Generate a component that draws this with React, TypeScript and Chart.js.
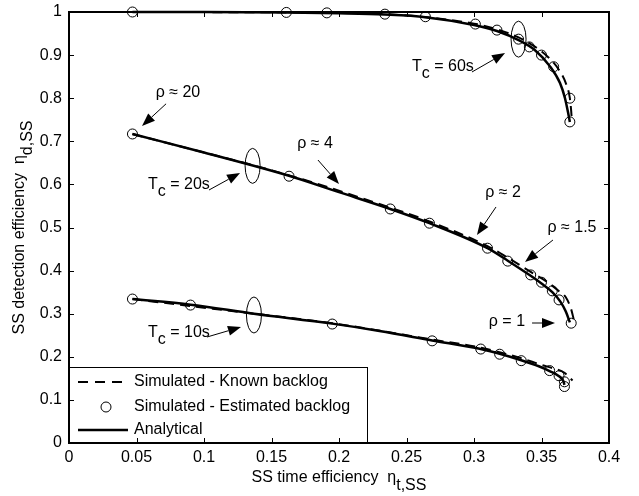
import { useEffect, useRef } from "react";
import { Chart, registerables } from "chart.js";

Chart.register(...registerables);

const FONT_FAMILY = 'Arial, "Liberation Sans", Helvetica, sans-serif';

// ---- tick values ----
const xTickValues = [0, 0.05, 0.1, 0.15, 0.2, 0.25, 0.3, 0.35, 0.4];
const yTickValues = [0, 0.1, 0.2, 0.3, 0.4, 0.5, 0.6, 0.7, 0.8, 0.9, 1];

// ---- legend labels ----
const legendLabels = ["Simulated - Known backlog", "Simulated - Estimated backlog", "Analytical"];

// ---- Tc = 60 s ----
const tc60AnalyticalX = [0.047, 0.1, 0.161, 0.2, 0.234, 0.264, 0.3, 0.317, 0.333, 0.345, 0.356, 0.3637, 0.3674, 0.3696, 0.371];
const tc60AnalyticalY = [1.0, 1.0, 0.999, 0.997, 0.994, 0.988, 0.97, 0.956, 0.935, 0.912, 0.875, 0.835, 0.8, 0.768, 0.745];
const tc60KnownX = [0.047, 0.161, 0.234, 0.3, 0.317, 0.333, 0.345, 0.355, 0.362, 0.368, 0.371, 0.372, 0.3725];
const tc60KnownY = [1.0, 0.999, 0.995, 0.973, 0.96, 0.941, 0.92, 0.895, 0.87, 0.835, 0.8, 0.77, 0.745];
const tc60EstX = [0.047, 0.161, 0.191, 0.234, 0.264, 0.301, 0.317, 0.333, 0.341, 0.35, 0.359, 0.371, 0.371];
const tc60EstY = [1.0, 0.999, 0.998, 0.995, 0.989, 0.972, 0.958, 0.937, 0.919, 0.9, 0.873, 0.8, 0.745];

// ---- Tc = 20 s ----
const tc20AnalyticalX = [0.047, 0.1, 0.163, 0.2, 0.238, 0.267, 0.31, 0.325, 0.342, 0.35, 0.358, 0.364, 0.368, 0.371];
const tc20AnalyticalY = [0.717, 0.674, 0.62, 0.582, 0.543, 0.51, 0.452, 0.423, 0.388, 0.37, 0.35, 0.328, 0.305, 0.28];
const tc20KnownX = [0.047, 0.163, 0.238, 0.267, 0.31, 0.325, 0.342, 0.355, 0.363, 0.368, 0.372, 0.374];
const tc20KnownY = [0.717, 0.621, 0.546, 0.514, 0.457, 0.43, 0.397, 0.372, 0.352, 0.338, 0.31, 0.285];
const tc20EstX = [0.047, 0.163, 0.238, 0.267, 0.31, 0.325, 0.342, 0.35, 0.358, 0.363, 0.372];
const tc20EstY = [0.717, 0.619, 0.543, 0.51, 0.452, 0.422, 0.39, 0.373, 0.353, 0.332, 0.278];

// ---- Tc = 10 s ----
const tc10AnalyticalX = [0.047, 0.09, 0.137, 0.195, 0.23, 0.269, 0.305, 0.319, 0.335, 0.348, 0.356, 0.363, 0.366, 0.367];
const tc10AnalyticalY = [0.334, 0.321, 0.3, 0.277, 0.26, 0.238, 0.218, 0.207, 0.192, 0.178, 0.167, 0.155, 0.145, 0.135];
const tc10KnownX = [0.047, 0.137, 0.195, 0.269, 0.305, 0.335, 0.35, 0.36, 0.367, 0.373];
const tc10KnownY = [0.334, 0.3, 0.278, 0.24, 0.221, 0.197, 0.181, 0.172, 0.163, 0.145];
const tc10EstX = [0.047, 0.09, 0.195, 0.269, 0.305, 0.319, 0.335, 0.356, 0.363, 0.367, 0.367];
const tc10EstY = [0.334, 0.32, 0.276, 0.237, 0.218, 0.206, 0.191, 0.168, 0.156, 0.142, 0.131];

// ---- annotations (data coordinates) ----
type Seg = { t: string; sub?: boolean };
const annotationTexts: { segs: Seg[]; x: number; y: number; align: "left" | "center" }[] = [
  { segs: [{ t: "ρ ≈ 20" }], x: 0.0807, y: 0.814, align: "center" },
  { segs: [{ t: "ρ ≈ 4" }], x: 0.1822, y: 0.6937, align: "center" },
  { segs: [{ t: "ρ ≈ 2" }], x: 0.3215, y: 0.58, align: "center" },
  { segs: [{ t: "ρ ≈ 1.5" }], x: 0.3726, y: 0.4988, align: "center" },
  { segs: [{ t: "ρ = 1" }], x: 0.3244, y: 0.2807, align: "center" },
  { segs: [{ t: "T" }, { t: "c", sub: true }, { t: " = 60s" }], x: 0.2541, y: 0.8724, align: "left" },
  { segs: [{ t: "T" }, { t: "c", sub: true }, { t: " = 20s" }], x: 0.0585, y: 0.5986, align: "left" },
  { segs: [{ t: "T" }, { t: "c", sub: true }, { t: " = 10s" }], x: 0.0585, y: 0.2552, align: "left" },
];
const annotationArrows = [
  { x1: 0.0719, y1: 0.787, x2: 0.0541, y2: 0.7355 },
  { x1: 0.1844, y1: 0.6566, x2: 0.2, y2: 0.601 },
  { x1: 0.3163, y1: 0.5476, x2: 0.3022, y2: 0.4826 },
  { x1: 0.3585, y1: 0.471, x2: 0.3378, y2: 0.42 },
  { x1: 0.343, y1: 0.2784, x2: 0.36, y2: 0.2784 },
  { x1: 0.2985, y1: 0.8608, x2: 0.323, y2: 0.9049 },
  { x1: 0.1037, y1: 0.587, x2: 0.1267, y2: 0.6265 },
  { x1: 0.1022, y1: 0.2459, x2: 0.1274, y2: 0.2691 },
];
const annotationEllipses = [
  { x: 0.333, y: 0.937, rx: 7.5, ry: 18 },
  { x: 0.136, y: 0.643, rx: 7.5, ry: 17.5 },
  { x: 0.137, y: 0.297, rx: 7.5, ry: 18 },
];

const zip = (xs: number[], ys: number[]) => xs.map((x, i) => ({ x, y: ys[i] }));
const fmt = (v: number) => String(parseFloat(Number(v).toFixed(2)));

function analyticalDs(xs: number[], ys: number[]) {
  return {
    data: zip(xs, ys),
    showLine: true,
    borderColor: "#000",
    borderWidth: 2.5,
    pointRadius: 0,
    cubicInterpolationMode: "monotone" as const,
    clip: false,
  };
}
function knownDs(xs: number[], ys: number[]) {
  return {
    data: zip(xs, ys),
    showLine: true,
    borderColor: "#000",
    borderWidth: 2,
    borderDash: [10, 6],
    pointRadius: 0,
    cubicInterpolationMode: "monotone" as const,
    clip: false,
  };
}
function estDs(xs: number[], ys: number[]) {
  return {
    data: zip(xs, ys),
    showLine: false,
    pointRadius: 5,
    pointStyle: "circle",
    pointBorderColor: "#000",
    pointBackgroundColor: "rgba(0,0,0,0)",
    pointBorderWidth: 1,
    clip: false,
  };
}

function drawRich(ctx: CanvasRenderingContext2D, segs: Seg[], x: number, y: number, align: string, subOff = 7) {
  ctx.font = `16px ${FONT_FAMILY}`;
  const widths = segs.map((s) => ctx.measureText(s.t).width);
  const total = widths.reduce((a, b) => a + b, 0);
  let cx = align === "center" ? x - total / 2 : x;
  ctx.textAlign = "left";
  ctx.textBaseline = "middle";
  segs.forEach((s, i) => {
    ctx.fillText(s.t, cx, y + (s.sub ? subOff : 0));
    cx += widths[i];
  });
}

function drawArrow(ctx: CanvasRenderingContext2D, x1: number, y1: number, x2: number, y2: number) {
  const ang = Math.atan2(y2 - y1, x2 - x1);
  const len = 13;
  const hw = 5;
  const bx = x2 - len * Math.cos(ang);
  const by = y2 - len * Math.sin(ang);
  ctx.beginPath();
  ctx.moveTo(x1, y1);
  ctx.lineTo(bx, by);
  ctx.lineWidth = 1;
  ctx.stroke();
  ctx.beginPath();
  ctx.moveTo(x2, y2);
  ctx.lineTo(bx + hw * Math.sin(ang), by - hw * Math.cos(ang));
  ctx.lineTo(bx - hw * Math.sin(ang), by + hw * Math.cos(ang));
  ctx.closePath();
  ctx.fill();
}

const overlayPlugin = {
  id: "overlay",
  afterDraw(chart: any) {
    const { ctx, chartArea: a, scales } = chart;
    const xs = scales.x;
    const ys = scales.y;
    const px = (v: number) => xs.getPixelForValue(v);
    const py = (v: number) => ys.getPixelForValue(v);
    ctx.save();
    ctx.strokeStyle = "#000";
    ctx.fillStyle = "#000";

    // ellipses
    ctx.lineWidth = 1;
    for (const e of annotationEllipses) {
      ctx.beginPath();
      ctx.ellipse(px(e.x), py(e.y), e.rx, e.ry, 0, 0, Math.PI * 2);
      ctx.stroke();
    }
    // arrows
    for (const ar of annotationArrows) {
      drawArrow(ctx, px(ar.x1), py(ar.y1), px(ar.x2), py(ar.y2));
    }
    // texts
    for (const t of annotationTexts) {
      drawRich(ctx, t.segs, px(t.x), py(t.y), t.align, 7);
    }

    // legend box
    const lx = a.left;
    const lb = a.bottom;
    const lw = 298;
    const lh = 76;
    ctx.fillStyle = "#fff";
    ctx.fillRect(lx, lb - lh, lw, lh);
    ctx.strokeStyle = "#000";
    ctx.lineWidth = 1;
    ctx.strokeRect(lx + 0.5, lb - lh + 0.5, lw, lh);
    ctx.fillStyle = "#000";
    const rows = [lb - 61, lb - 36, lb - 13];
    // dashed
    ctx.beginPath();
    ctx.setLineDash([10, 7]);
    ctx.lineWidth = 2;
    ctx.moveTo(lx + 9, rows[0]);
    ctx.lineTo(lx + 59, rows[0]);
    ctx.stroke();
    ctx.setLineDash([]);
    // circle
    ctx.beginPath();
    ctx.lineWidth = 1;
    ctx.arc(lx + 37, rows[1], 5, 0, Math.PI * 2);
    ctx.stroke();
    // solid
    ctx.beginPath();
    ctx.lineWidth = 2.5;
    ctx.moveTo(lx + 9, rows[2]);
    ctx.lineTo(lx + 59, rows[2]);
    ctx.stroke();
    legendLabels.forEach((lab, i) => drawRich(ctx, [{ t: lab }], lx + 65, rows[i], "left"));

    // frame
    ctx.strokeStyle = "#000";
    ctx.lineWidth = 2;
    ctx.strokeRect(a.left, a.top, a.right - a.left, a.bottom - a.top);

    // inward ticks on all sides
    ctx.lineWidth = 1;
    const tl = 5;
    ctx.beginPath();
    for (const v of xTickValues) {
      const x = Math.round(px(v)) + 0.5;
      ctx.moveTo(x, a.bottom);
      ctx.lineTo(x, a.bottom - tl);
      ctx.moveTo(x, a.top);
      ctx.lineTo(x, a.top + tl);
    }
    for (const v of yTickValues) {
      const y = Math.round(py(v)) + 0.5;
      ctx.moveTo(a.left, y);
      ctx.lineTo(a.left + tl, y);
      ctx.moveTo(a.right, y);
      ctx.lineTo(a.right - tl, y);
    }
    ctx.stroke();

    // axis titles
    drawRich(
      ctx,
      [{ t: "SS time efficiency  η" }, { t: "t,SS", sub: true }],
      (a.left + a.right) / 2,
      478,
      "center",
      8
    );
    ctx.save();
    ctx.translate(20, (a.top + a.bottom) / 2);
    ctx.rotate(-Math.PI / 2);
    drawRich(ctx, [{ t: "SS detection efficiency  η" }, { t: "d,SS", sub: true }], 0, 0, "center", 8);
    ctx.restore();

    ctx.restore();
  },
};

export default function App() {
  const ref = useRef<HTMLCanvasElement | null>(null);
  useEffect(() => {
    if (!ref.current) return;
    const tickFont = { size: 16, family: FONT_FAMILY };
    const chart = new Chart(ref.current, {
      type: "scatter",
      data: {
        datasets: [
          analyticalDs(tc60AnalyticalX, tc60AnalyticalY),
          knownDs(tc60KnownX, tc60KnownY),
          estDs(tc60EstX, tc60EstY),
          analyticalDs(tc20AnalyticalX, tc20AnalyticalY),
          knownDs(tc20KnownX, tc20KnownY),
          estDs(tc20EstX, tc20EstY),
          analyticalDs(tc10AnalyticalX, tc10AnalyticalY),
          knownDs(tc10KnownX, tc10KnownY),
          estDs(tc10EstX, tc10EstY),
        ] as any,
      },
      options: {
        responsive: false,
        animation: false,
        layout: { padding: { top: 12, right: 30, left: 0, bottom: 0 } },
        plugins: { legend: { display: false }, tooltip: { enabled: false } },
        scales: {
          x: {
            type: "linear",
            min: 0,
            max: 0.4,
            afterBuildTicks: (s: any) => {
              s.ticks = xTickValues.map((v) => ({ value: v }));
            },
            afterFit: (s: any) => {
              s.height = 53;
              s.paddingLeft = 0;
              s.paddingRight = 0;
              s.paddingTop = 0;
              s.paddingBottom = 0;
            },
            ticks: {
              callback: (v: any) => fmt(v),
              font: tickFont,
              color: "#000",
              padding: 5,
              maxRotation: 0,
              autoSkip: false,
            },
            grid: { display: false, drawTicks: false },
            border: { display: false },
          },
          y: {
            type: "linear",
            min: 0,
            max: 1,
            afterBuildTicks: (s: any) => {
              s.ticks = yTickValues.map((v) => ({ value: v }));
            },
            afterFit: (s: any) => {
              s.width = 69;
              s.paddingLeft = 0;
              s.paddingRight = 0;
              s.paddingTop = 0;
              s.paddingBottom = 0;
            },
            ticks: {
              callback: (v: any) => fmt(v),
              font: tickFont,
              color: "#000",
              padding: 7,
              autoSkip: false,
            },
            grid: { display: false, drawTicks: false },
            border: { display: false },
          },
        },
      },
      plugins: [overlayPlugin],
    });
    return () => chart.destroy();
  }, []);
  return (
    <div style={{ position: "absolute", left: 0, top: 0, width: 639, height: 496, background: "#fff" }}>
      <canvas ref={ref} width={639} height={496} style={{ display: "block" }} />
    </div>
  );
}
